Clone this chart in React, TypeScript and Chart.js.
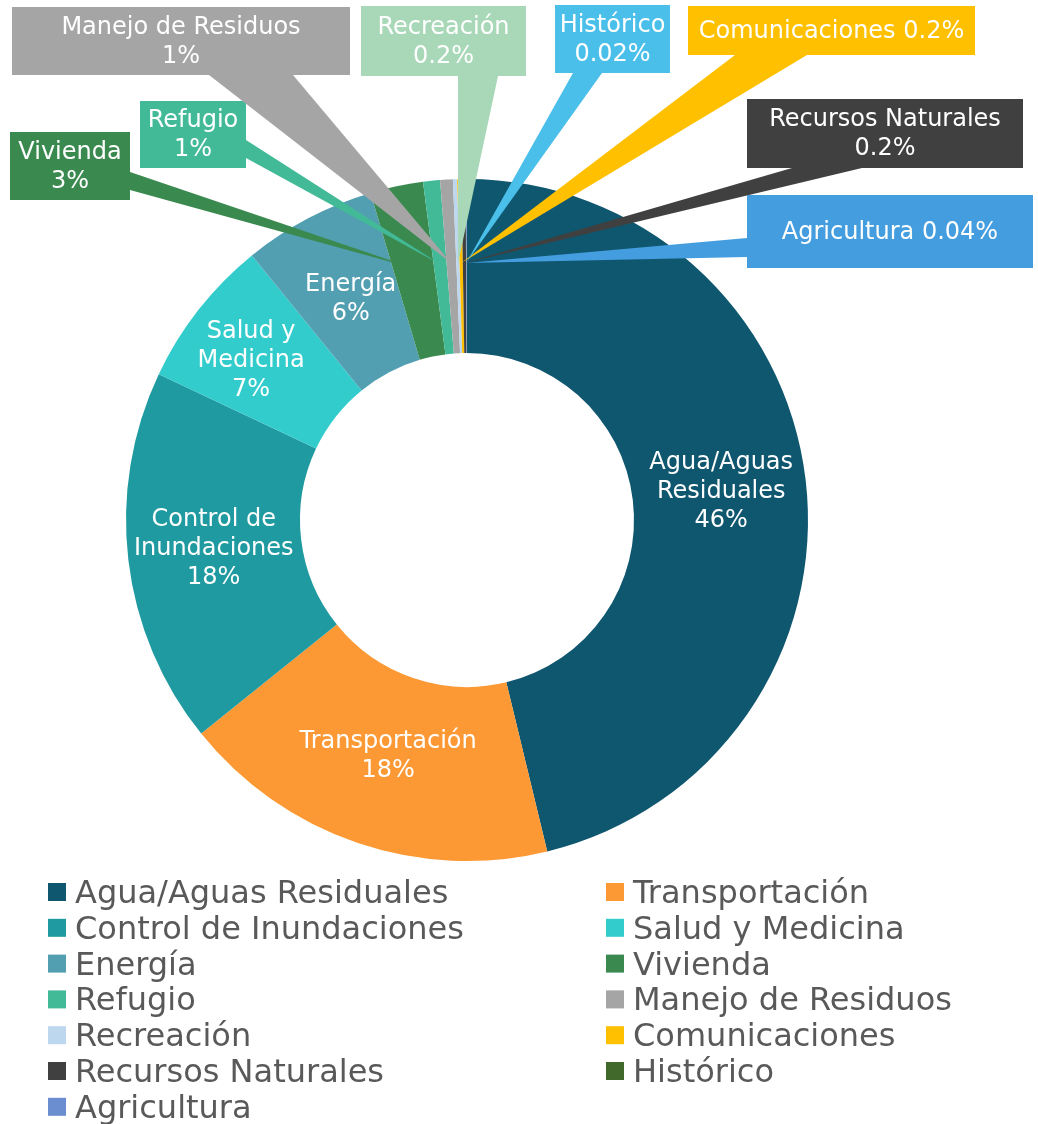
import React, { useEffect, useRef } from "react";
import { Chart, registerables } from "chart.js";

Chart.register(...registerables);

// ---- data ----
const categories = [
  "Agua/Aguas Residuales",
  "Transportación",
  "Control de Inundaciones",
  "Salud y Medicina",
  "Energía",
  "Vivienda",
  "Refugio",
  "Manejo de Residuos",
  "Recreación",
  "Comunicaciones",
  "Recursos Naturales",
  "Histórico",
  "Agricultura",
];
const shares = [46.2, 18.0, 17.8, 7.1, 6.3, 2.5, 0.8, 0.6, 0.2, 0.2, 0.2, 0.02, 0.04];
const percentLabels = ["46%", "18%", "18%", "7%", "6%", "3%", "1%", "1%", "0.2%", "0.2%", "0.2%", "0.02%", "0.04%"];
const sliceColors = [
  "#0F566F", "#FD9934", "#1F9AA0", "#33CCCC", "#529FB2", "#3A8A50", "#42BA97",
  "#A5A5A5", "#BDD7EE", "#FFC000", "#404040", "#41692B", "#6A8ECF",
];
const calloutColors = [
  "", "", "", "", "", "#3A8A50", "#42BA97", "#A5A5A5", "#A8D8B8", "#FFC000", "#404040", "#4ABFEA", "#449DDE",
];
const insideLabelLines = [
  ["Agua/Aguas", "Residuales"],
  ["Transportación"],
  ["Control de", "Inundaciones"],
  ["Salud y", "Medicina"],
  ["Energía"],
];
const calloutNames = ["", "", "", "", "", "Vivienda", "Refugio", "Manejo de Residuos", "Recreación", "Comunicaciones", "Recursos Naturales", "Histórico", "Agricultura"];
const calloutSingleLine = [false, false, false, false, false, false, false, false, false, true, false, false, true];

// ---- layout (positions / sizes, not data) ----
const W = 1038;
const H = 1124;
const FONT = "'DejaVu Sans', sans-serif";
const insideOffsets = [[2, 2], [3, -4], [-1, -1], [-16, -2], [2, 4]];
// box: x, y, w, h ; base: x1, y1, x2, y2 (leader base on box edge)
const calloutBoxes: Record<number, { box: number[]; base: number[] }> = {
  5: { box: [10, 132, 120, 68], base: [130, 172, 130, 190] },
  6: { box: [140, 101, 106, 67], base: [246, 140, 246, 158] },
  7: { box: [12, 7, 338, 68], base: [209, 75, 293, 75] },
  8: { box: [361, 6, 165, 70], base: [458, 76, 498, 76] },
  9: { box: [688, 6, 287, 49], base: [735, 55, 807, 55] },
  10: { box: [747, 99, 276, 69], base: [792, 168, 862, 168] },
  11: { box: [555, 5, 115, 68], base: [573, 73, 602, 73] },
  12: { box: [747, 195, 286, 73], base: [747, 238, 747, 257] },
};

const calloutPlugin = {
  id: "callouts",
  afterDatasetsDraw(chart: any) {
    const ctx = chart.ctx as CanvasRenderingContext2D;
    const meta = chart.getDatasetMeta(0);
    ctx.save();
    ctx.fillStyle = "#FFFFFF";
    ctx.font = `24px ${FONT}`;
    ctx.textAlign = "center";
    ctx.textBaseline = "middle";
    insideLabelLines.forEach((lines, i) => {
      const arc = meta.data[i];
      const p = arc.getCenterPoint();
      const all = [...lines, percentLabels[i]];
      const lh = 29;
      const cx = p.x + insideOffsets[i][0];
      const cy = p.y + insideOffsets[i][1];
      all.forEach((t, k) => {
        ctx.fillText(t, cx, cy + (k - (all.length - 1) / 2) * lh);
      });
    });
    Object.keys(calloutBoxes).forEach((key) => {
      const i = Number(key);
      const { box, base } = calloutBoxes[i];
      const arc = meta.data[i];
      const p = arc.getCenterPoint();
      ctx.fillStyle = calloutColors[i];
      ctx.beginPath();
      ctx.moveTo(base[0], base[1]);
      ctx.lineTo(p.x, p.y - 3);
      ctx.lineTo(base[2], base[3]);
      ctx.closePath();
      ctx.fill();
      ctx.fillRect(box[0], box[1], box[2], box[3]);
      ctx.fillStyle = "#FFFFFF";
      ctx.font = `24px ${FONT}`;
      const lines = calloutSingleLine[i]
        ? [calloutNames[i] + " " + percentLabels[i]]
        : [calloutNames[i], percentLabels[i]];
      const cx = box[0] + box[2] / 2;
      const cy = box[1] + box[3] / 2 + 1;
      lines.forEach((t, k) => {
        ctx.fillText(t, cx, cy + (k - (lines.length - 1) / 2) * 29);
      });
    });
    ctx.restore();
  },
  afterDraw(chart: any) {
    const ctx = chart.ctx as CanvasRenderingContext2D;
    ctx.save();
    ctx.font = `32px ${FONT}`;
    ctx.textAlign = "left";
    ctx.textBaseline = "alphabetic";
    const colX = [48, 606];
    const rowY0 = 892;
    const step = 35.8;
    categories.forEach((name, i) => {
      const r = Math.floor(i / 2);
      const c = i % 2;
      const y = rowY0 + r * step;
      ctx.fillStyle = sliceColors[i];
      ctx.fillRect(colX[c], y - 9, 18, 18);
      ctx.fillStyle = "#595959";
      ctx.fillText(name, colX[c] + 27, y + 11);
    });
    ctx.restore();
  },
};

export default function App() {
  const ref = useRef<HTMLCanvasElement | null>(null);
  useEffect(() => {
    document.body.style.margin = "0";
    const canvas = ref.current;
    if (!canvas) return;
    const chart = new Chart(canvas, {
      type: "doughnut",
      data: {
        labels: categories,
        datasets: [
          {
            data: shares,
            backgroundColor: sliceColors,
            borderWidth: 0,
            hoverOffset: 0,
          },
        ],
      },
      options: {
        responsive: false,
        animation: false,
        events: [],
        cutout: 167,
        radius: 341,
        layout: { padding: { left: 126, right: 230, top: 179, bottom: 263 } },
        plugins: {
          legend: { display: false },
          tooltip: { enabled: false },
        },
      },
      plugins: [calloutPlugin],
    });
    return () => chart.destroy();
  }, []);
  return (
    <div style={{ width: W, height: H, background: "#FFFFFF" }}>
      <canvas ref={ref} width={W} height={H} style={{ display: "block" }} />
    </div>
  );
}
